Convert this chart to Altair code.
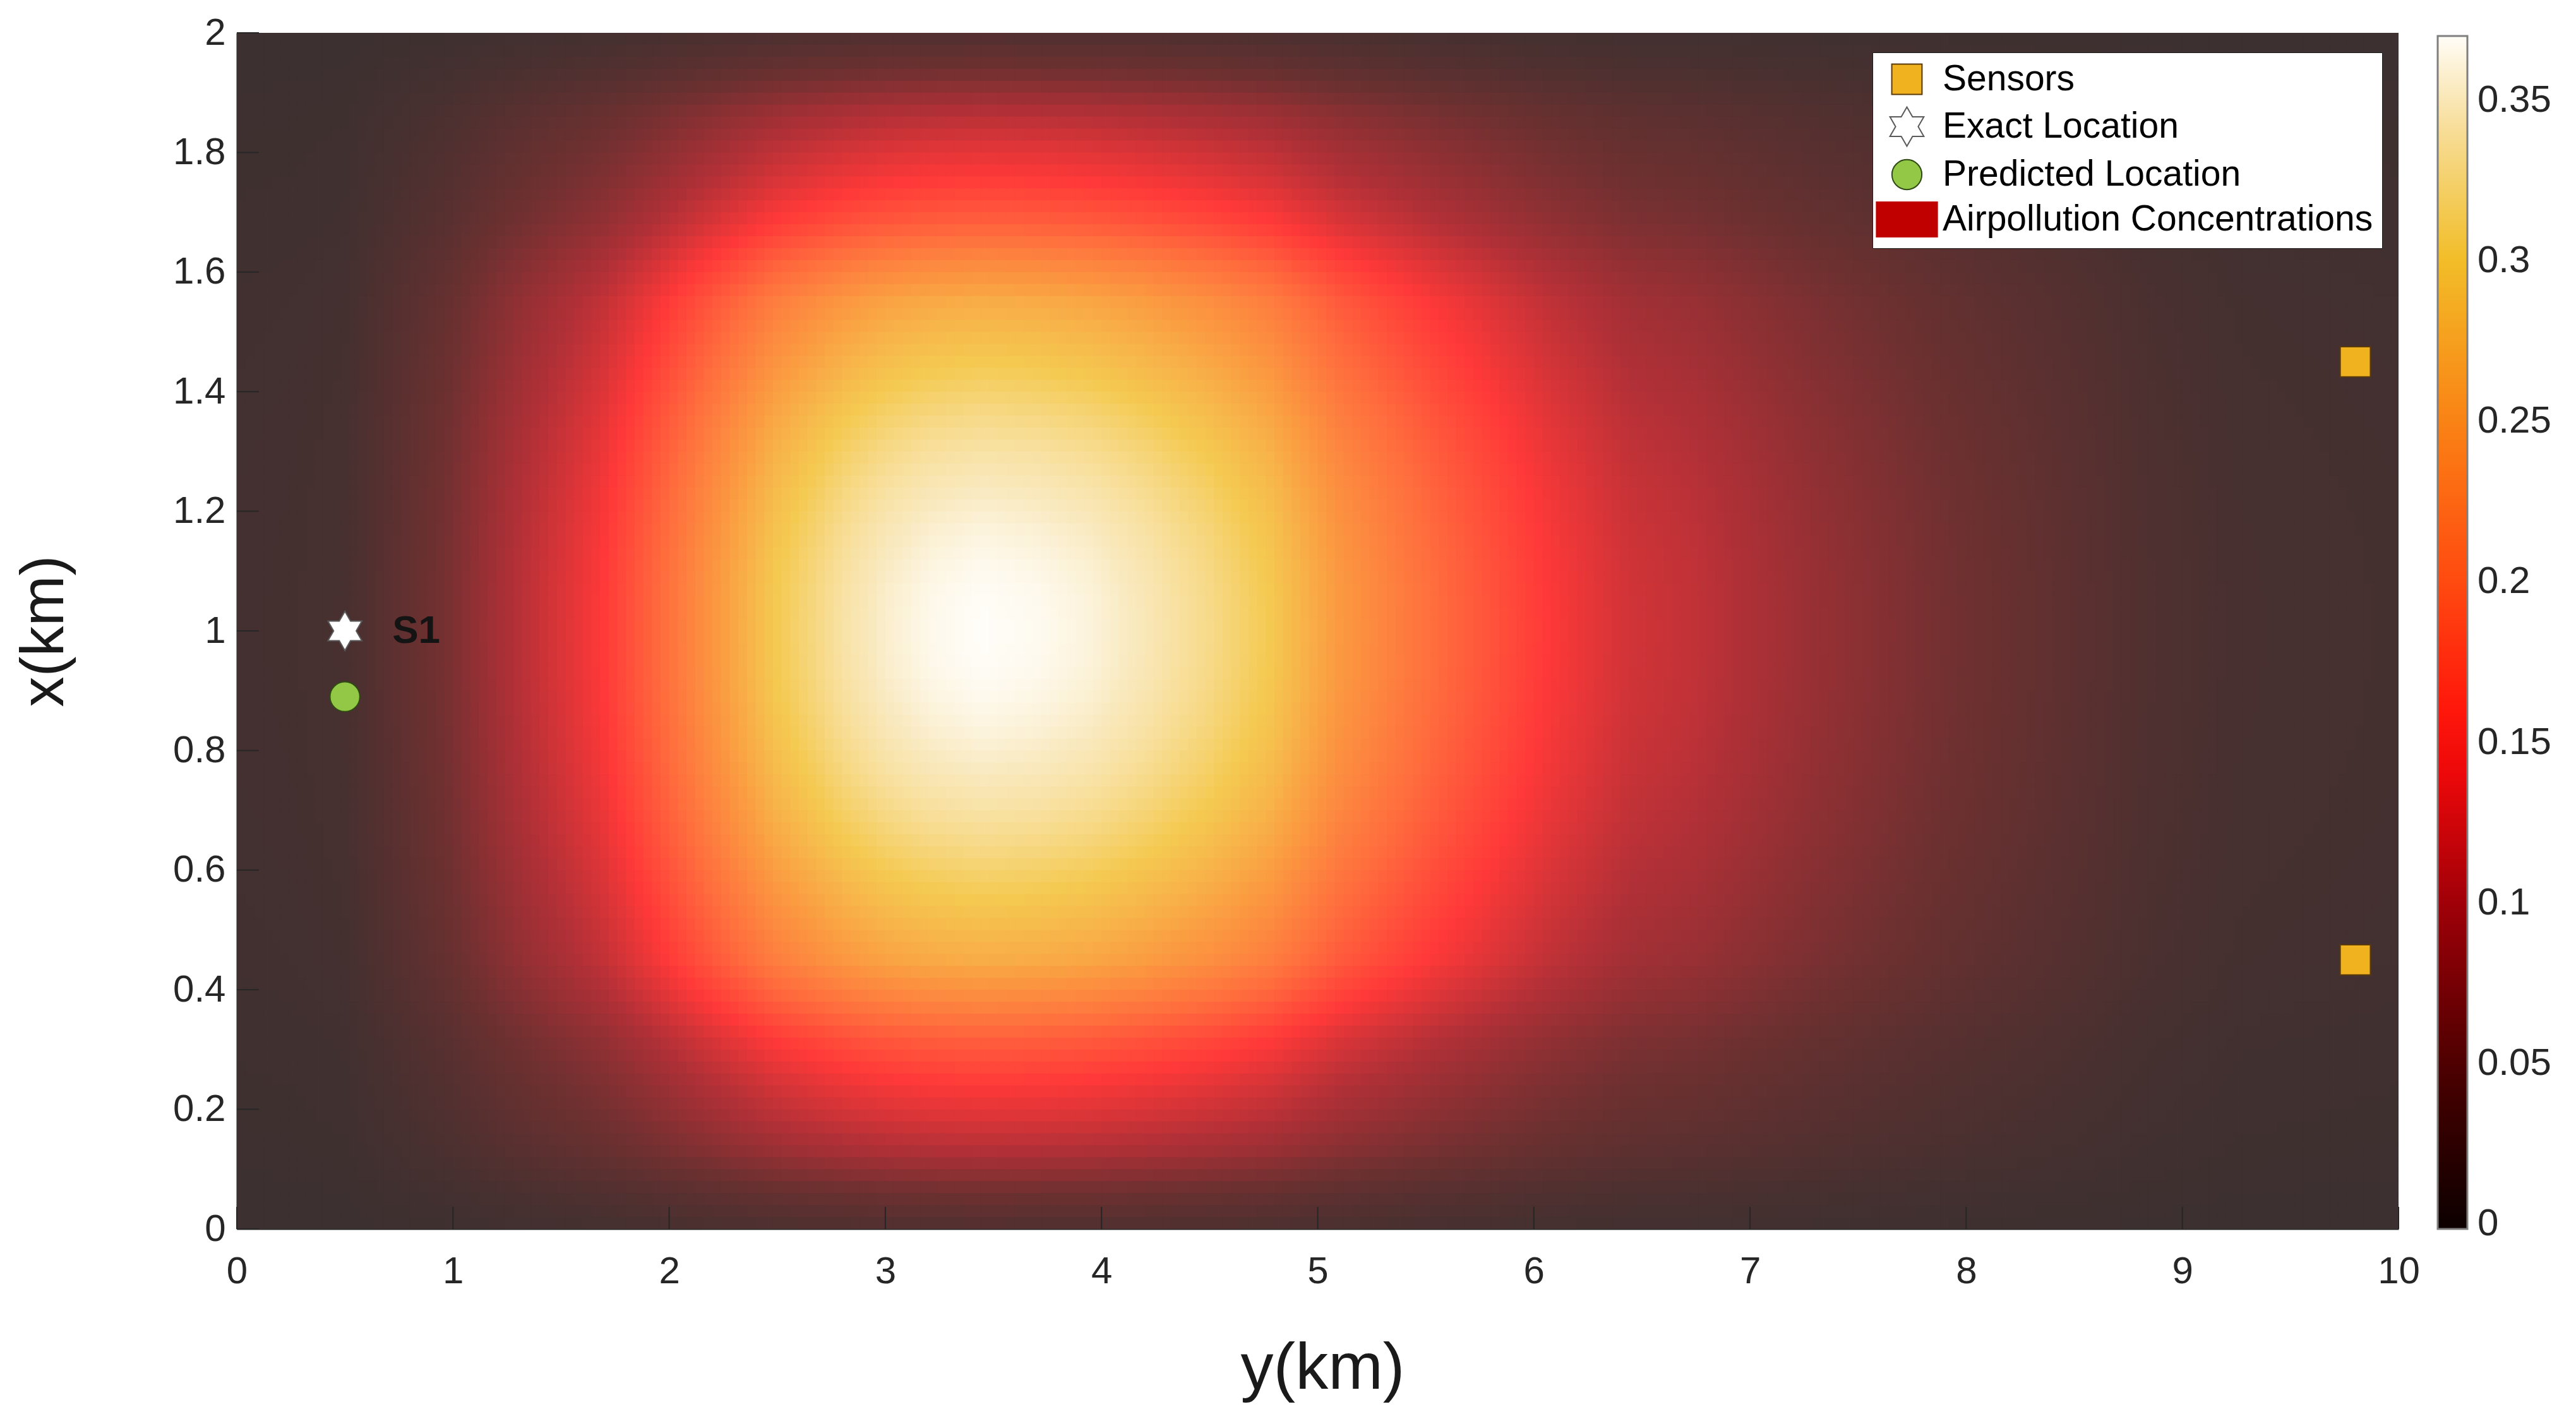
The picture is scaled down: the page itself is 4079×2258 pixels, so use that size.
import numpy as np
import pandas as pd
import altair as alt

alt.data_transformers.disable_max_rows()

# ---------------- data ----------------
# concentration along the plume centre line (x = 1 km) as a function of y (km)
y_line_km = [0, 0.25, 0.5, 0.7, 0.96, 1.28, 1.53, 1.69, 1.91, 2.17, 2.49, 2.81, 3.0, 3.2, 3.44,
             3.7, 3.95, 4.2, 4.5, 4.78, 5.1, 5.55, 6.06, 6.44, 6.74, 7.3, 7.86, 8.42, 8.84, 9.26, 10]
conc_line = [0.008, 0.009, 0.012, 0.03, 0.055, 0.1, 0.13, 0.15, 0.19, 0.24, 0.3, 0.339, 0.355, 0.365, 0.37,
             0.367, 0.36, 0.347, 0.326, 0.3, 0.25, 0.2, 0.15, 0.12, 0.11, 0.08, 0.055, 0.035, 0.02, 0.012, 0.009]

# relative cross-wind profile (read at the peak column y = 3.44 km) as a function of x (km)
x_across_km = [0, 0.06, 0.13, 0.19, 0.24, 0.32, 0.38, 0.45, 0.55, 0.64, 0.7, 0.77, 0.83, 0.89, 0.94, 1.0,
               1.06, 1.11, 1.17, 1.23, 1.3, 1.36, 1.45, 1.55, 1.62, 1.68, 1.76, 1.81, 1.87, 1.94, 2.0]
across_rel = [0.055, 0.135, 0.27, 0.35, 0.405, 0.51, 0.62, 0.73, 0.81, 0.878, 0.915, 0.95, 0.973, 0.989, 0.997, 1.0,
              0.997, 0.989, 0.973, 0.95, 0.915, 0.878, 0.81, 0.73, 0.62, 0.51, 0.405, 0.35, 0.27, 0.135, 0.055]

# colour map (colour bar)
cmap_values = [0, 0.05, 0.1, 0.15, 0.2, 0.25, 0.3, 0.35, 0.37]
cmap_colors = ["#0e0000", "#4d0000", "#a00008", "#ff0a0a", "#ff4a10", "#fa8214",
               "#f2bd28", "#f8e4b0", "#fffdf8"]
field_alpha = 0.81

# markers
sensor_y_km = [9.8, 9.8]
sensor_x_km = [1.45, 0.45]
exact_y_km = [0.5]
exact_x_km = [1.0]
pred_y_km = [0.5]
pred_x_km = [0.89]
source_names = ["S1"]

legend_labels = ["Sensors", "Exact Location", "Predicted Location", "Airpollution Concentrations"]
legend_fills = ["#f0b21f", "#ffffff", "#92c846", "#c00000"]
legend_strokes = ["#5a3a0a", "#5a5a5a", "#2f4a12", "#c00000"]

y_axis_ticks = [0, 1, 2, 3, 4, 5, 6, 7, 8, 9, 10]
x_axis_ticks = [0, 0.2, 0.4, 0.6, 0.8, 1.0, 1.2, 1.4, 1.6, 1.8, 2.0]
cbar_ticks = [0, 0.05, 0.1, 0.15, 0.2, 0.25, 0.3, 0.35]

# ---------------- layout ----------------
W, H = 3423, 1894
FONT = "Liberation Sans"

# ---------------- heat map grid ----------------
ny, nx = 250, 100
dy, dx = 10.0 / ny, 2.0 / nx
yc = (np.arange(ny) + 0.5) * dy
xc = (np.arange(nx) + 0.5) * dx
Hy = np.interp(yc, y_line_km, conc_line)
Vx = np.interp(xc, x_across_km, across_rel)
C = np.outer(Vx, Hy)  # shape nx, ny

rgb = np.array([[int(c[1:3], 16), int(c[3:5], 16), int(c[5:7], 16)] for c in cmap_colors], float)


def to_hex(v):
    out = []
    chans = []
    for k in range(3):
        ch = np.interp(v, cmap_values, rgb[:, k])
        chans.append(255 * (1 - field_alpha) + field_alpha * ch)
    for r, g, b in zip(*chans):
        out.append("#%02x%02x%02x" % (int(round(r)), int(round(g)), int(round(b))))
    return out


YY, XX = np.meshgrid(np.arange(ny) * dy, np.arange(nx) * dx)
grid = pd.DataFrame({
    "y0": YY.ravel(),
    "y1": YY.ravel() + dy * 1.15,
    "x0": XX.ravel(),
    "x1": XX.ravel() + dx * 1.15,
})
grid["col"] = to_hex(C.ravel())

xs = alt.Scale(domain=[0, 10], nice=False, zero=False)
ys = alt.Scale(domain=[0, 2], nice=False, zero=False)

ax_x = alt.Axis(values=y_axis_ticks, format="d", title="y(km)", ticks=False, grid=False,
                labelFontSize=60, labelFont=FONT, labelColor="#262626", labelPadding=38,
                labelFlush=False, labelOverlap=False,
                domainColor="#262626", domainWidth=2,
                titleFont=FONT, titleFontSize=104, titleFontWeight="normal", titleColor="#1a1a1a",
                titleX=1719, titleY=221, titleBaseline="middle", titleAlign="center")
ax_y = alt.Axis(values=x_axis_ticks, format=".1~f", title="x(km)", ticks=False, grid=False,
                labelFontSize=60, labelFont=FONT, labelColor="#262626", labelPadding=18,
                labelFlush=False, labelOverlap=False,
                domainColor="#262626", domainWidth=2,
                titleFont=FONT, titleFontSize=96, titleFontWeight="normal", titleColor="#1a1a1a",
                titleX=-305, titleY=947, titleAngle=270, titleBaseline="middle", titleAlign="center")

heat = alt.Chart(grid).mark_rect(clip=True, strokeWidth=0).encode(
    x=alt.X("y0:Q", scale=xs, axis=ax_x),
    x2="y1:Q",
    y=alt.Y("x0:Q", scale=ys, axis=ax_y),
    y2="x1:Q",
    color=alt.Color("col:N", scale=None, legend=None),
)

tick_b = alt.Chart(pd.DataFrame({"t": y_axis_ticks})).mark_rule(color="#262626", strokeWidth=2).encode(
    x=alt.X("t:Q", scale=xs, axis=ax_x),
    y=alt.value(H), y2=alt.value(H - 35),
)
tick_l = alt.Chart(pd.DataFrame({"t": x_axis_ticks})).mark_rule(color="#262626", strokeWidth=2).encode(
    y=alt.Y("t:Q", scale=ys, axis=ax_y),
    x=alt.value(0), x2=alt.value(35),
)

# marker shapes (custom unit paths)
R_out = 1.127
R_in = R_out / np.sqrt(3)
pts = []
for k in range(12):
    ang = np.deg2rad(-90 + 30 * k)
    r = R_out if k % 2 == 0 else R_in
    pts.append("%.3f,%.3f" % (r * np.cos(ang), r * np.sin(ang)))
hexagram = "M" + "L".join(pts) + "Z"
square = "M-0.87,-0.87H0.87V0.87H-0.87Z"
circle = "M0.86,0A0.86,0.86,0,1,1,-0.86,0A0.86,0.86,0,1,1,0.86,0Z"
wide_rect = "M-1.75,-1H1.75V1H-1.75Z"
legend_shapes = [square, hexagram, circle, wide_rect]

markers = pd.DataFrame({
    "ykm": sensor_y_km + exact_y_km + pred_y_km,
    "xkm": sensor_x_km + exact_x_km + pred_x_km,
    "label": ["Sensors"] * len(sensor_y_km) + ["Exact Location"] * len(exact_y_km)
             + ["Predicted Location"] * len(pred_y_km),
})

sym_legend = alt.Legend(title=None, orient="none", legendX=2590, legendY=31,
                        fillColor="white", strokeColor="#1a1a1a", padding=14,
                        symbolSize=3025, symbolStrokeWidth=2,
                        symbolOffset=12, labelOffset=28, rowPadding=11,
                        labelFontSize=57, labelFont=FONT, labelColor="black", labelLimit=0)

pts_layer = alt.Chart(markers).mark_point(filled=True, opacity=1, size=3025, strokeWidth=2).encode(
    x=alt.X("ykm:Q", scale=xs, axis=ax_x),
    y=alt.Y("xkm:Q", scale=ys, axis=ax_y),
    fill=alt.Fill("label:N", scale=alt.Scale(domain=legend_labels, range=legend_fills), legend=sym_legend),
    shape=alt.Shape("label:N", scale=alt.Scale(domain=legend_labels, range=legend_shapes), legend=sym_legend),
    stroke=alt.Stroke("label:N", scale=alt.Scale(domain=legend_labels, range=legend_strokes), legend=sym_legend),
)

s1 = alt.Chart(pd.DataFrame({"ykm": exact_y_km, "xkm": exact_x_km, "name": source_names})).mark_text(
    align="left", baseline="middle", dx=75, fontSize=62, fontWeight="bold", font=FONT, color="#141414"
).encode(
    x=alt.X("ykm:Q", scale=xs, axis=ax_x),
    y=alt.Y("xkm:Q", scale=ys, axis=ax_y),
    text="name:N",
)

cbar_domain = [-0.0015] + cmap_values
cbar_range = [cmap_colors[0]] + cmap_colors
cbar_legend = alt.Legend(title=None, orient="none", legendX=3485, legendY=5, direction="vertical",
                         gradientLength=1889, gradientThickness=47, gradientStrokeColor="#7f7f7f",
                         gradientStrokeWidth=3, values=cbar_ticks, format=".2~f",
                         labelFontSize=60, labelFont=FONT, labelColor="#262626", labelOffset=16,
                         labelBaseline="middle", labelOverlap=False, padding=0)
cbar = alt.Chart(pd.DataFrame({"v": cbar_ticks})).mark_point(size=0, opacity=1, filled=False).encode(
    color=alt.Color("v:Q", scale=alt.Scale(domain=cbar_domain, range=cbar_range, interpolate="rgb"),
                    legend=cbar_legend),
)

chart = alt.layer(heat, tick_b, tick_l, pts_layer, s1, cbar).resolve_scale(
    color="independent"
).properties(
    width=W, height=H,
    padding={"left": 367, "top": 44, "right": 250, "bottom": 290},
    autosize=alt.AutoSizeParams(type="none"),
    background="white",
).configure_view(stroke=None)

chart.save("out.html", embed_options={"renderer": "svg", "actions": False})
